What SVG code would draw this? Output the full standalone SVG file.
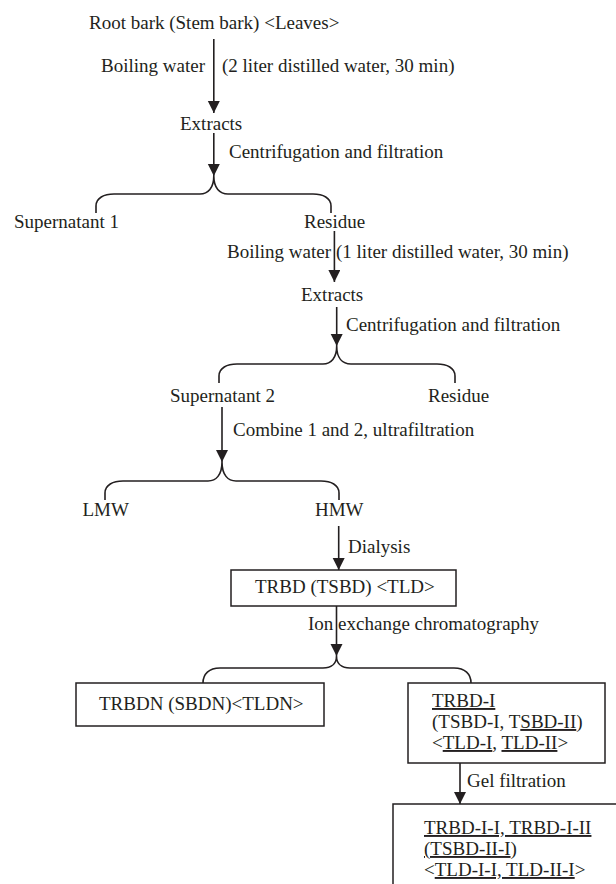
<svg xmlns="http://www.w3.org/2000/svg" width="616" height="884" viewBox="0 0 616 884">
<style>
text{font-family:"Liberation Serif","Times New Roman",serif;font-size:19px;fill:#231f20}
.u{text-decoration:underline}
.box{fill:#fff;stroke:#231f20;stroke-width:1.5}
.c{fill:none;stroke:#231f20;stroke-width:1.6}
</style>
<defs>
<marker id="ah" markerUnits="userSpaceOnUse" markerWidth="12" markerHeight="13" refX="12" refY="6" orient="auto">
<path d="M0,0 L12,6 L0,12 z" fill="#231f20"/>
</marker>
</defs>
<rect width="616" height="884" fill="#fff"/>
<g id="connectors">
<line class="c" x1="213.8" y1="39" x2="213.8" y2="113" marker-end="url(#ah)"/>
<line class="c" x1="213.8" y1="133" x2="213.8" y2="176" marker-end="url(#ah)"/>
<path class="c" d="M96,213 V206 C96,198 104,194 114,194 H200 C208,194 213.8,188 213.8,176 C213.8,188 219.6,194 228,194 H313 C323,194 331,198 331,206 V213"/>
<line class="c" x1="334.4" y1="231" x2="334.4" y2="282" marker-end="url(#ah)"/>
<line class="c" x1="336.7" y1="307" x2="336.7" y2="346" marker-end="url(#ah)"/>
<path class="c" d="M219,383 V376 C219,368 227,364 237,364 H323 C331,364 336.7,358 336.7,346 C336.7,358 342.4,364 351,364 H437 C447,364 455,368 455,376 V383"/>
<line class="c" x1="222" y1="407" x2="222" y2="462" marker-end="url(#ah)"/>
<path class="c" d="M105,500 V493 C105,485 113,481 123,481 H208 C216,481 222,475 222,462 C222,475 228,481 236,481 H321 C331,481 339,485 339,493 V500"/>
<line class="c" x1="338.7" y1="526" x2="338.7" y2="570" marker-end="url(#ah)"/>
<line class="c" x1="336.5" y1="606" x2="336.5" y2="656" marker-end="url(#ah)"/>
<path class="c" d="M203,683 C203,674 209,668 220,668 H323 C331,668 336.5,664 336.5,656 C336.5,664 342,668 350,668 H454 C465,668 471,674 471,683"/>
<line class="c" x1="460" y1="763" x2="460" y2="804" marker-end="url(#ah)"/>
</g>
<g id="n-root"><text x="89" y="29">Root bark (Stem bark) &lt;Leaves&gt;</text></g>
<g id="l-boil1"><text x="101" y="72">Boiling water</text><text x="222" y="72">(2 liter distilled water, 30 min)</text></g>
<g id="n-extracts1"><text x="180" y="130">Extracts</text></g>
<g id="l-cf1"><text x="229" y="158">Centrifugation and filtration</text></g>
<g id="n-sup1"><text x="14" y="228">Supernatant 1</text></g>
<g id="n-res1"><text x="304" y="228">Residue</text></g>
<g id="l-boil2"><text x="227" y="258">Boiling water</text><text x="336" y="258">(1 liter distilled water, 30 min)</text></g>
<g id="n-extracts2"><text x="301" y="301">Extracts</text></g>
<g id="l-cf2"><text x="346" y="331">Centrifugation and filtration</text></g>
<g id="n-sup2"><text x="170" y="402">Supernatant 2</text></g>
<g id="n-res2"><text x="428" y="402">Residue</text></g>
<g id="l-comb"><text x="233" y="436">Combine 1 and 2, ultrafiltration</text></g>
<g id="n-lmw"><text x="82.5" y="516">LMW</text></g>
<g id="n-hmw"><text x="315" y="516">HMW</text></g>
<g id="l-dial"><text x="348" y="553">Dialysis</text></g>
<g id="n-trbd"><rect class="box" x="231" y="570" width="225" height="36"/><text x="255" y="593">TRBD (TSBD) &lt;TLD&gt;</text></g>
<g id="l-ion"><text x="308" y="630">Ion exchange chromatography</text></g>
<g id="n-trbdn"><rect class="box" x="76" y="683" width="248" height="43"/><text x="99" y="710">TRBDN (SBDN)&lt;TLDN&gt;</text></g>
<g id="n-trbdi"><rect class="box" x="408" y="683" width="197" height="80"/>
<text x="432" y="707"><tspan class="u">TRBD-I</tspan></text>
<text x="432" y="728">(TSBD-I, T<tspan class="u">SBD-II</tspan>)</text>
<text x="432" y="749">&lt;<tspan class="u">TLD-I</tspan>, <tspan class="u">TLD-II</tspan>&gt;</text></g>
<g id="l-gel"><text x="467" y="787">Gel filtration</text></g>
<g id="n-final"><rect class="box" x="393" y="804" width="240" height="100"/>
<text x="424" y="834"><tspan class="u">TRBD-I-I, TRBD-I-II</tspan></text>
<text x="424" y="855"><tspan class="u">(TSBD-II-I</tspan>)</text>
<text x="424" y="876">&lt;<tspan class="u">TLD-I-I, TLD-II-I</tspan>&gt;</text></g>
</svg>
